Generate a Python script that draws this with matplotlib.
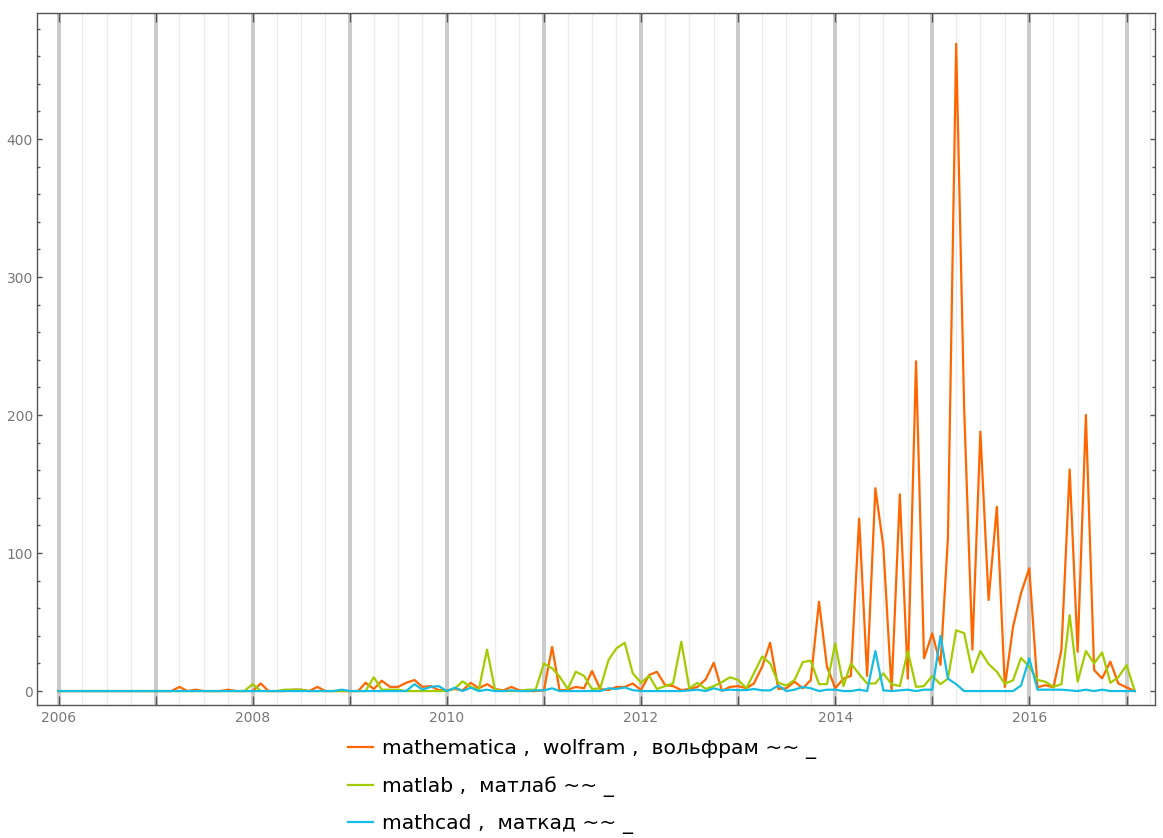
"""
Monatliche Erwähnungen: mathematica / matlab / mathcad, 2006 bis Anfang 2017.
"""

import matplotlib
matplotlib.use("Agg")
import matplotlib.pyplot as plt
import matplotlib.dates as mdates
from matplotlib.ticker import MultipleLocator, FuncFormatter
import pandas as pd

MONTHS = pd.date_range("2006-01-01", periods=134, freq="MS")

mathematica = [
    0, 0, 0, 0, 0, 0, 0, 0, 0, 0, 0, 0,
    0, 0, 0, 3, 0, 1, 0, 0, 0, 1, 0, 0,
    0, 5.5, 0, 0, 0, 1, 1, 0, 3, 0, 0, 0,
    0, 0, 6, 1.5, 7.5, 3, 3, 6, 8, 3, 3.6, 0.7,
    0.5, 1.5, 0.5, 6, 2, 5, 1.5, 0.5, 3, 0.5, 0, 0,
    0.5, 32, 0.5, 1, 3, 2, 14.5, 1.5, 0.7, 3, 3, 5.5,
    0.7, 11.6, 14, 4.3, 3.6, 0.7, 1.5, 3, 8.5, 20.5, 0.2, 3,
    3.6, 2, 5.5, 17.6, 35, 1.5, 2, 6.8, 2, 8, 64.7, 17.6,
    2, 9, 11, 125, 11, 147, 104.6, 0.7, 142.5, 9, 239, 23.7,
    41.8, 19, 111, 469, 205, 30, 188, 66, 133.5, 3, 46.6, 71,
    88.9, 2.7, 4.3, 2.7, 29.7, 160.6, 28.5, 200, 15.2, 9.2, 21.3, 5.5, 2.7, 0,
]

matlab = [
    0, 0, 0, 0, 0, 0, 0, 0, 0, 0, 0, 0,
    0, 0, 0, 0, 0, 0, 0, 0, 0, 0, 0, 0,
    5, 0, 0, 0, 1, 1, 1, 0, 0, 0, 0, 0,
    0, 0, 0, 10, 1, 1, 1, 0, 0, 0, 0, 0,
    0, 2, 7, 3, 1, 30, 1, 0, 0, 0, 1, 1,
    20, 16.5, 10.5, 1.5, 14, 11, 1.5, 2, 22.5, 31, 35, 13,
    6, 11, 1.5, 3.6, 5.5, 35.7, 2, 6, 1.5, 3.6, 6.5, 10,
    8, 2, 13, 25, 20, 6, 4, 8, 21, 22, 5, 5,
    34.5, 3.6, 20, 12.3, 5.5, 5.5, 12.8, 5, 3.6, 29, 3, 3.6,
    11, 5, 9, 44, 42, 13.4, 29, 19.6, 14, 5.3, 7.8, 24,
    17.6, 8, 6.8, 3.1, 5, 55, 6.8, 29, 20, 28, 6, 10, 18.8, 0,
]

mathcad = [
    0, 0, 0, 0, 0, 0, 0, 0, 0, 0, 0, 0,
    0, 0, 0, 0, 0, 0, 0, 0, 0, 0, 0, 0,
    0, 0, 0, 0, 0, 0, 0, 0, 0, 0, 0, 1,
    0, 0, 0, 0, 0, 0, 0, 0, 5, 1, 3, 3.6,
    0, 2.5, 0, 2.5, 0, 1, 0, 0, 0.5, 0, 0, 0.5,
    0.5, 2, 0, 0, 0, 0, 0, 0, 2, 1.5, 2.6, 0.7,
    0, 0, 0, 0, 0, 0, 0.5, 1, 0, 2, 0.5, 1,
    0.7, 0.7, 1.5, 0.5, 0.5, 4, 0, 1, 3, 2, 0, 1,
    1, 0, 0, 1, 0, 29, 0.5, 0, 0.5, 1, 0, 1,
    1, 40, 9, 5, 0, 0, 0, 0, 0, 0, 0, 4,
    23.7, 1, 1, 1, 1, 0.5, 0, 1, 0, 1, 0, 0, 0, 0,
]

LABELS = [
    "mathematica ,  wolfram ,  вольфрам ~~ _",
    "matlab ,  матлаб ~~ _",
    "mathcad ,  маткад ~~ _",
]
COLORS = ["#ff6600", "#a3cc00", "#17bde2"]


def plot():
    fig = plt.figure(figsize=(11.63, 8.38), dpi=100)
    ax = fig.add_axes([37 / 1163, 1 - 705 / 838, (1155 - 37) / 1163, (705 - 13) / 838])

    for series, label, color in zip([mathematica, matlab, mathcad], LABELS, COLORS):
        ax.plot(MONTHS, series, color=color, linewidth=1.6, label=label, zorder=3)

    ax.set_xlim(pd.Timestamp("2005-10-12"), pd.Timestamp("2017-04-18"))
    ax.set_ylim(-10.1, 491.3)

    ax.xaxis.set_major_locator(mdates.YearLocator(1))
    ax.xaxis.set_minor_locator(mdates.MonthLocator(bymonth=[1, 4, 7, 10]))
    ax.xaxis.set_major_formatter(
        FuncFormatter(lambda v, pos: str(mdates.num2date(v).year)
                      if mdates.num2date(v).year % 2 == 0 else "")
    )
    ax.yaxis.set_major_locator(MultipleLocator(100))
    ax.yaxis.set_minor_locator(MultipleLocator(20))

    ax.grid(True, axis="x", which="minor", color="#ececec", linewidth=1.0, zorder=0)
    ax.grid(True, axis="x", which="major", color="#cbcbcb", linewidth=2.8, zorder=1)
    ax.set_axisbelow(True)

    for s in ax.spines.values():
        s.set_color("#555555")
        s.set_linewidth(1.0)

    ax.tick_params(axis="x", which="major", direction="in", length=6.5, width=1,
                   top=True, bottom=True, color="#555555", labelcolor="#777777",
                   labelsize=10, pad=4)
    ax.tick_params(axis="x", which="minor", length=0)
    ax.tick_params(axis="y", which="major", direction="in", length=3.5, width=1,
                   left=True, right=True, color="#555555", labelcolor="#777777",
                   labelsize=10, pad=3)
    ax.tick_params(axis="y", which="minor", direction="in", length=2.2, width=1,
                   left=True, right=True, color="#555555")

    fig.legend(loc="upper left", bbox_to_anchor=(338 / 1163, 1 - 729 / 838),
               frameon=False, fontsize=14.6, handlelength=1.25, handletextpad=0.4,
               labelspacing=0.85, borderpad=0)

    fig.savefig("out.png", dpi=100)


if __name__ == "__main__":
    plot()
